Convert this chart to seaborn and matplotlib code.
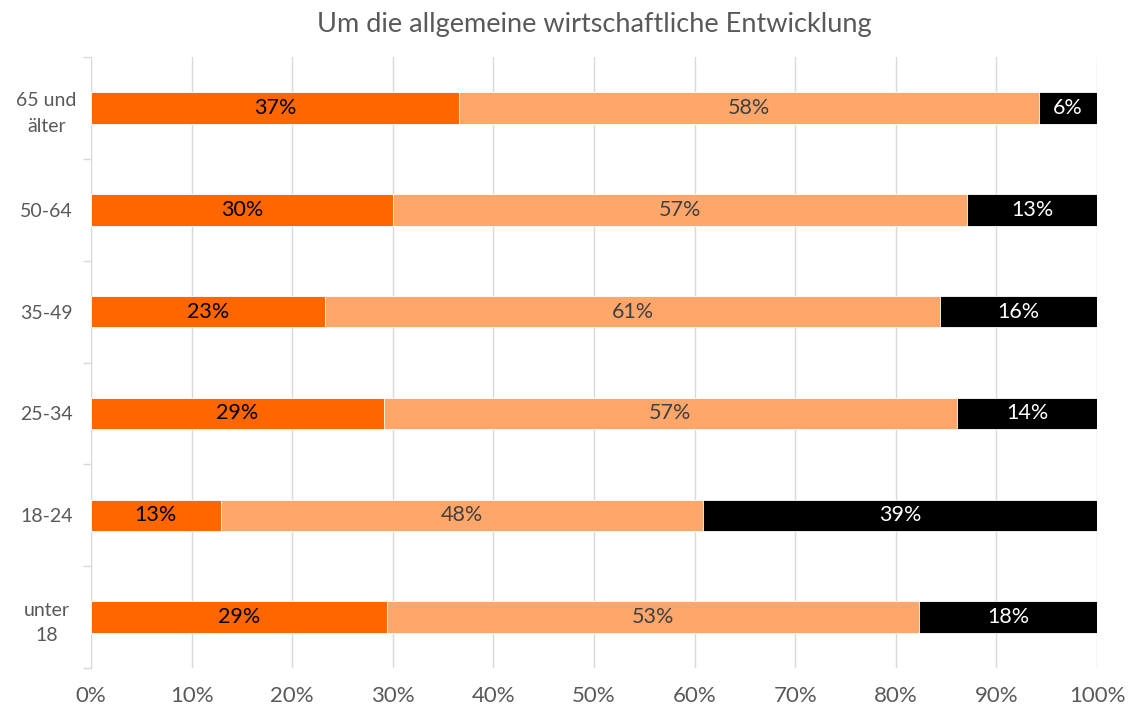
import matplotlib
matplotlib.use('Agg')
import numpy as np
import pandas as pd
import seaborn as sns
from matplotlib import pyplot as plt
from matplotlib.ticker import PercentFormatter

# Données (parts en %), de haut en bas
categories = ['65 und\nälter', '50-64', '35-49', '25-34', '18-24', 'unter\n18']
serie_1 = [36.6, 30.0, 23.3, 29.1, 12.9, 29.4]
serie_2 = [57.6, 57.1, 61.1, 57.0, 47.9, 52.9]
serie_3 = [5.8, 12.9, 15.6, 13.9, 39.2, 17.7]

COULEURS = ['#FF6600', '#FFA66B', '#000000']
COULEURS_TEXTE = ['#000000', '#404040', '#FFFFFF']

df = pd.DataFrame({'cat': categories, 's1': serie_1, 's2': serie_2, 's3': serie_3})
df['c1'] = df['s1']
df['c2'] = df['s1'] + df['s2']
df['c3'] = df['c2'] + df['s3']

sns.set_style('white')
plt.rcParams['font.family'] = ['Lato', 'DejaVu Sans']

fig, ax = plt.subplots(figsize=(11.3, 7.13), dpi=100)
fig.subplots_adjust(left=0.0805, right=0.9708, top=0.92, bottom=0.063)

# Barres empilées : on trace les cumuls du plus grand au plus petit
for col, couleur in zip(['c3', 'c2', 'c1'], COULEURS[::-1]):
    sns.barplot(data=df, x=col, y='cat', orient='h', color=couleur, width=0.31,
                saturation=1, edgecolor='white', linewidth=0.6, ax=ax, zorder=3)

# Étiquettes des valeurs au centre de chaque segment
for i, row in df.iterrows():
    starts = [0, row['c1'], row['c2']]
    for k, (val, start) in enumerate(zip([row['s1'], row['s2'], row['s3']], starts)):
        ax.text(start + val / 2, i, '{:.0f}%'.format(val), ha='center', va='center',
                fontsize=15.5, color=COULEURS_TEXTE[k], zorder=4)

ax.set_xlim(0, 100)
ax.set_ylim(len(categories) - 0.5, -0.5)
ax.set_xticks(np.arange(0, 101, 10))
ax.xaxis.set_major_formatter(PercentFormatter(decimals=0))
ax.set_xlabel('')
ax.set_ylabel('')

# Graduations de l'axe y entre les catégories
ax.set_yticks(np.arange(len(categories)))
ax.set_yticklabels(categories, linespacing=1.6)
ax.set_yticks(np.arange(-0.5, len(categories)), minor=True)
ax.tick_params(axis='y', which='major', left=False, length=0, pad=32, labelsize=14,
               labelcolor='#595959')
ax.tick_params(axis='y', which='minor', left=True, length=6, width=1, color='#D9D9D9',
               direction='out')
ax.tick_params(axis='x', length=0, pad=13, labelsize=16, labelcolor='#595959')
for lab in ax.get_yticklabels():
    lab.set_horizontalalignment('center')

ax.grid(axis='x', color='#D9D9D9', linewidth=1, zorder=0)
ax.set_axisbelow(True)
for side in ['top', 'right', 'bottom']:
    ax.spines[side].set_visible(False)
ax.spines['left'].set_color('#D9D9D9')

ax.set_title('Um die allgemeine wirtschaftliche Entwicklung', fontsize=19.5,
             color='#595959', pad=18)

fig.savefig('out.png', dpi=100)
plt.close()
